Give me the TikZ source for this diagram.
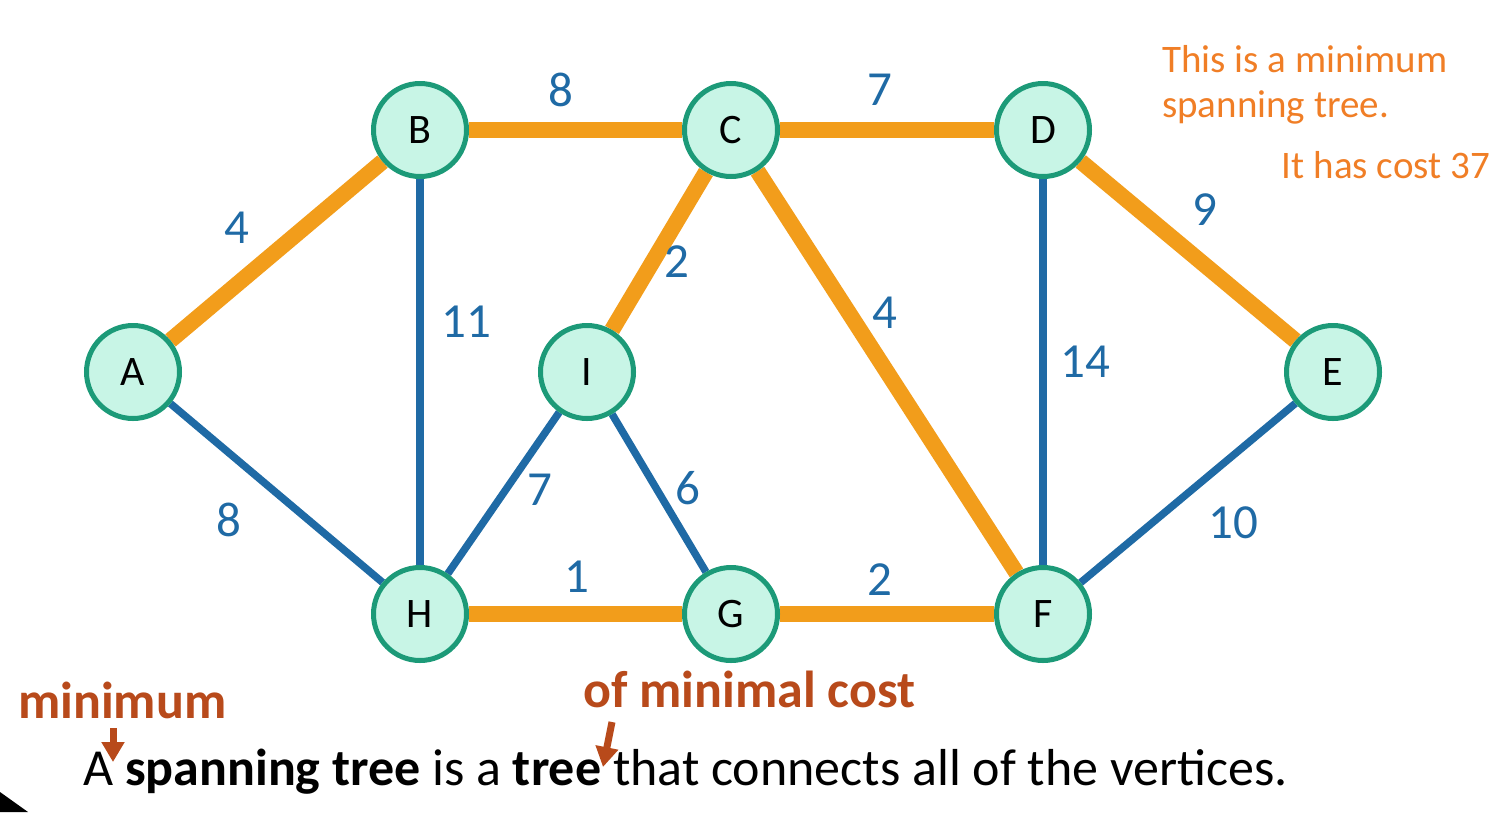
\documentclass[tikz,border=0pt]{standalone}
\usepackage{fontspec}
\setmainfont{Carlito}
\usetikzlibrary{arrows.meta}
\definecolor{nodefill}{HTML}{C8F5E6}
\definecolor{nodeline}{HTML}{1C9A78}
\definecolor{mstcol}{HTML}{F29D1B}
\definecolor{edgeblue}{HTML}{1F6AA5}
\definecolor{noteorange}{HTML}{F07E26}
\definecolor{hlbrown}{HTML}{B84A1B}
\pgfdeclarelayer{background}
\pgfsetlayers{background,main}
\begin{document}
\begin{tikzpicture}[x=1pt,y=-1pt,
  vertex/.style={circle,draw=nodeline,fill=nodefill,line width=5pt,minimum size=93pt,inner sep=0pt,font=\fontsize{42}{46}\selectfont},
  mst/.style={draw=mstcol,line width=16pt},
  other/.style={draw=edgeblue,line width=7.5pt},
  wlabel/.style={text=edgeblue,inner sep=0pt,font=\fontsize{49}{52}\selectfont},
  note/.style={text=noteorange,inner sep=0pt,anchor=base west,font=\fontsize{39}{44}\selectfont},
  hl/.style={text=hlbrown,inner sep=0pt,anchor=base west,font=\fontsize{52}{56}\selectfont\bfseries},
  hlarrow/.style={draw=hlbrown,line width=7pt,-{Triangle[width=22pt,length=20pt]}}
]
\useasboundingbox (0,0) rectangle (1503,812);

% vertices
\node[vertex] (A) at (133,372) {A};
\node[vertex] (B) at (420,130) {B};
\node[vertex] (C) at (731,130) {C};
\node[vertex] (D) at (1043,130) {D};
\node[vertex] (E) at (1333,372) {E};
\node[vertex] (F) at (1043,614) {F};
\node[vertex] (G) at (731,614) {G};
\node[vertex] (H) at (420,614) {H};
\node[vertex] (I) at (587,372) {I};

\begin{pgfonlayer}{background}
\draw[mst] (A) -- (B);
\draw[mst] (B) -- (C);
\draw[mst] (C) -- (D);
\draw[mst] (C) -- (I);
\draw[mst] (C) -- (F);
\draw[mst] (D) -- (E);
\draw[mst] (H) -- (G);
\draw[mst] (G) -- (F);
\draw[other] (B) -- (H);
\draw[other] (A) -- (H);
\draw[other] (H) -- (I);
\draw[other] (I) -- (G);
\draw[other] (D) -- (F);
\draw[other] (E) -- (F);
\end{pgfonlayer}

% weights
\node[wlabel] (wBC) at (561,90) {8};
\node[wlabel] (wCD) at (880,90) {7};
\node[wlabel] (wAB) at (237,228) {4};
\node[wlabel] (wBH) at (466,322) {11};
\node[wlabel] (wCI) at (677,262) {2};
\node[wlabel] (wCF) at (885,313) {4};
\node[wlabel] (wDE) at (1205,210) {9};
\node[wlabel] (wDF) at (1085,362) {14};
\node[wlabel] (wAH) at (229,520) {8};
\node[wlabel] (wHI) at (540,490) {7};
\node[wlabel] (wIG) at (688,488) {6};
\node[wlabel] (wEF) at (1233,523) {10};
\node[wlabel] (wHG) at (577,577) {1};
\node[wlabel] (wGF) at (880,580) {2};

% notes
\node[note] (n1) at (1162,72) {This is a minimum};
\node[note] (n2) at (1162,117) {spanning tree.};
\node[note,anchor=base east] (n3) at (1490,178) {It has cost 37};

% bottom text
\node[inner sep=0pt,anchor=base west,font=\fontsize{52}{56}\selectfont] (main) at (83,785)
  {A \textbf{spanning tree} is a \textbf{tree} that connects all of the vertices.};
\node[hl] (hmin) at (18,718) {minimum};
\node[hl] (hcost) at (583,707) {of minimal cost};
\coordinate (a1s) at (113,728);
\coordinate (a1e) at (113,762);
\coordinate (a2s) at (612,722);
\coordinate (a2e) at (603,767);
\draw[hlarrow] (a1s) -- (a1e);
\draw[hlarrow] (a2s) -- (a2e);

% corner triangle
\fill[black] (0,792) -- (28,812) -- (0,812) -- cycle;
\end{tikzpicture}
\end{document}
